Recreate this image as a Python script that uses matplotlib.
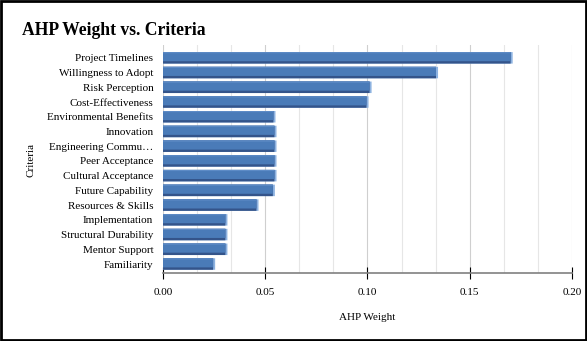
import matplotlib.pyplot as plt
from matplotlib.patches import Rectangle
from matplotlib.ticker import MultipleLocator

# AHP 权重数据
criteria = ["Project Timelines", "Willingness to Adopt", "Risk Perception",
            "Cost-Effectiveness", "Environmental Benefits", "Innovation",
            "Engineering Commu\u2026", "Peer Acceptance", "Cultural Acceptance",
            "Future Capability", "Resources & Skills", "Implementation",
            "Structural Durability", "Mentor Support", "Familiarity"]
weights = [0.170, 0.1335, 0.101, 0.0995, 0.054, 0.0545, 0.0545, 0.0545,
           0.0545, 0.0537, 0.0457, 0.0305, 0.0305, 0.0305, 0.0245]

plt.rcParams['font.family'] = ['Liberation Serif', 'DejaVu Serif']

fig = plt.figure(figsize=(5.87, 3.41), dpi=100)
ax = fig.add_axes([0.2777, 0.1994, 0.6967, 0.669])

face = '#4a7bb8'
dark = '#34548a'
light = '#8db2e0'
top = '#5d8bc6'
pos = list(range(len(criteria)))
h = 0.78

# 立体效果：右侧亮边 + 底部暗边 + 正面 + 顶部高光
ax.barh(pos, [w + 0.001 for w in weights], height=h, color=light,
        linewidth=0, snap=False, zorder=2)
ax.barh(pos, weights, height=h, color=dark, linewidth=0, snap=False, zorder=3)
ax.barh([p - 0.08 for p in pos], weights, height=h - 0.16, color=face,
        linewidth=0, snap=False, zorder=4)
ax.barh([p - 0.35 for p in pos], weights, height=0.08, color=top,
        linewidth=0, snap=False, zorder=5)

ax.set_xlim(0, 0.2)
ax.set_ylim(len(criteria) - 1 + 0.61, -0.88)
ax.set_yticks(pos)
ax.set_yticklabels(criteria, fontsize=8)
ax.tick_params(axis='y', length=0, pad=7)

ax.xaxis.set_major_locator(MultipleLocator(0.05))
ax.xaxis.set_minor_locator(MultipleLocator(0.05 / 3))
ax.xaxis.set_major_formatter(lambda v, p: f"{v:.2f}")
ax.tick_params(axis='x', which='major', direction='inout', length=9,
               width=0.8, labelsize=8, pad=6, color='black')
ax.tick_params(axis='x', which='minor', length=0)
ax.grid(axis='x', which='major', color='#cfcfcf', linewidth=0.8, zorder=0)
ax.grid(axis='x', which='minor', color='#e6e6e6', linewidth=0.8, zorder=0)
ax.set_axisbelow(True)

for s in ['top', 'right', 'left']:
    ax.spines[s].set_visible(False)
ax.spines['bottom'].set_color('#808080')
ax.spines['bottom'].set_linewidth(1.2)

ax.set_xlabel("AHP Weight", fontsize=8, labelpad=12)
fig.text(0.052, 0.53, "Criteria", rotation=90, fontsize=8,
         ha='center', va='center')
fig.text(0.037, 0.912, "AHP Weight vs. Criteria", fontsize=12.7,
         fontweight='bold', ha='left', va='center')

# 外边框
fig.patches.append(Rectangle((0.002, 0.003), 0.996, 0.994, transform=fig.transFigure,
                             fill=False, edgecolor='black', linewidth=2))

fig.savefig('out.png', dpi=100)
